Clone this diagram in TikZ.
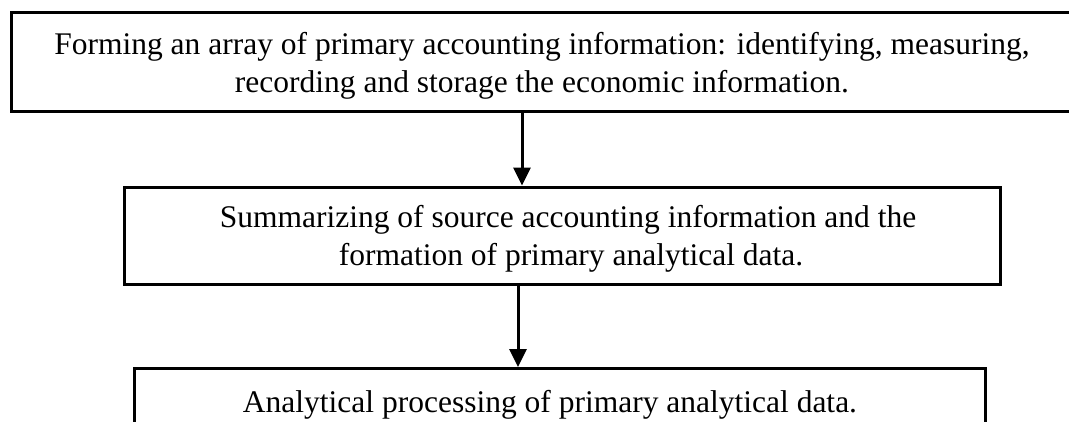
\documentclass[tikz,border=0pt]{standalone}
\usepackage{fontspec}
\setmainfont{Liberation Serif}
\usetikzlibrary{arrows.meta}
\begin{document}
\begin{tikzpicture}[x=1pt,y=-1pt,
  box/.style={draw,line width=3pt,rectangle,inner sep=0pt,align=center,
    font=\fontsize{31.5}{38}\selectfont},
  label/.style={font=\fontsize{31.5}{38}\selectfont,anchor=base,inner sep=0pt},
  flow/.style={line width=3pt,-{Triangle[width=17pt,length=18pt]}}]
\useasboundingbox (0,0) rectangle (1069,421);
\clip (0,0) rectangle (1069,421);
\node[box,minimum width=1062pt,minimum height=99pt] (b1) at (542,61.5)
  {\rule{0pt}{30pt}Forming an array of primary accounting information: identifying, measuring,\\
   recording and storage the economic information.};
\node[box,minimum width=876pt,minimum height=97pt] (b2) at (562,235.5)
  {\rule{0pt}{28.5pt}\hspace*{12pt}Summarizing of source accounting information and the\\
   \hspace*{18pt}formation of primary analytical data.};
\node[box,minimum width=851pt,minimum height=100pt,anchor=north] (b3) at (559.5,367) {};
\node[label] (t3) at (550,412)
  {Analytical processing of primary analytical data.};
\draw[flow] (b1.south -| 522,0) -- (b2.north -| 522,0);
\draw[flow] (b2.south -| 518,0) -- (b3.north -| 518,0);
\end{tikzpicture}
\end{document}
